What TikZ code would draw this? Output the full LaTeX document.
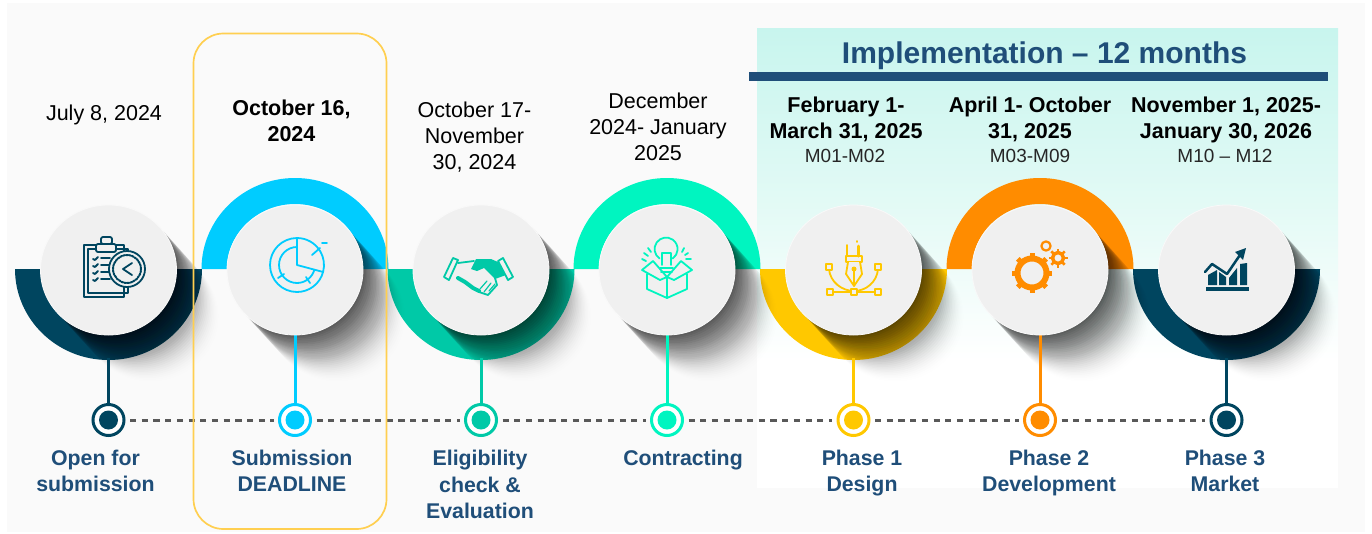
\documentclass[tikz,border=0pt]{standalone}
\usepackage{fontspec}
\setmainfont{Liberation Sans}
\usetikzlibrary{shapes.geometric,calc}
\pgfdeclarelayer{under}
\pgfdeclarelayer{mid}
\pgfsetlayers{under,mid,main}
\definecolor{navy}{HTML}{00455F}
\definecolor{sky}{HTML}{00CCFF}
\definecolor{teal2}{HTML}{00C9A7}
\definecolor{mint}{HTML}{00F5C0}
\definecolor{gold}{HTML}{FFC800}
\definecolor{amber}{HTML}{FF8C00}
\definecolor{ink}{HTML}{1F4E79}
\definecolor{disc}{HTML}{F0F0F0}
\tikzset{
  hub/.style={ellipse,inner sep=0pt,outer sep=0pt,minimum width=136pt,minimum height=130pt,fill=disc,draw=white!60!disc,line width=.8pt},
  ring/.style={circle,inner sep=0pt,outer sep=0pt,minimum size=31pt,fill=white,draw=#1,line width=3pt},
  pip/.style={circle,inner sep=0pt,outer sep=0pt,minimum size=19pt,fill=#1},
  stem/.style={draw=#1,line width=3pt},
  dots/.style={draw=black!65,line width=3pt,dash pattern=on 6.2pt off 5.5pt,shorten >=6pt,shorten <=6pt},
  datetxt/.style={align=center,text=black,inner sep=0pt,font=\fontsize{21.5}{26}\selectfont},
  boldtxt/.style={datetxt,font=\fontsize{21.5}{26}\selectfont\bfseries},
  monthtxt/.style={align=center,text=black!85,inner sep=0pt,font=\fontsize{19}{23}\selectfont},
  caption/.style={align=center,text=ink,inner sep=0pt,font=\fontsize{21.3}{26.3}\selectfont\bfseries},
  icon/.style={draw=#1,line width=1.8pt,line join=round,line cap=round},
}
\begin{document}
\begin{tikzpicture}[x=1pt,y=-1pt]
\useasboundingbox (0,0) rectangle (1372,533);
% hubs, rings, pips
\foreach \i/\x/\col in {1/108.5/navy,2/295/sky,3/481/teal2,4/667/mint,5/853.5/gold,6/1040/amber,7/1226.5/navy}{
  \node[hub] (c\i) at (\x,270) {};
  \node[ring=\col] (d\i) at (\x,420) {};
  \node[pip=\col] (p\i) at (d\i.center) {};
}
\foreach \i in {1,3,5,7}{\coordinate (s\i) at ($(c\i.south)+(0,23)$);}
\foreach \i in {2,4,6}{\coordinate (s\i) at (c\i.south);}
\begin{pgfonlayer}{under}
  \fill[black!2] (7,3) rectangle (1365,532);
  \fill[white] (757,28) rectangle (1338,488);
  \shade[top color={rgb,255:red,200;green,245;blue,238},bottom color={rgb,255:red,226;green,250;blue,245}] (757,28) rectangle (1338,200);
  \shade[top color={rgb,255:red,226;green,250;blue,245},bottom color=white] (757,200) rectangle (1338,360);
  \foreach \x/\col/\e in {108.5/navy/360,295/sky/0,481/teal2/360,667/mint/0,853.5/gold/360,1040/amber/0,1226.5/navy/360}{
    \fill[\col] (\x-93.5,269) arc[start angle=180,end angle=\e,x radius=93.5pt,y radius=91pt]
      -- (\x+68,269) arc[start angle=\e,end angle=180,x radius=68pt,y radius=65pt] -- cycle;
  }
\end{pgfonlayer}
\begin{pgfonlayer}{mid}
  \foreach \x in {108.5,295,481,667,853.5,1040,1226.5}{
    \foreach \k in {1,...,30}{
      \pgfmathsetmacro{\op}{0.058*(1-\k/31)}
      \fill[black,opacity=\op] (\x+\k*1.45,270+\k*1.6) ellipse [x radius=68pt,y radius=65pt];
    }
  }
  \foreach \i/\col in {1/navy,2/sky,3/teal2,4/mint,5/gold,6/amber,7/navy}{
    \draw[stem=\col] (s\i) -- (d\i.north);
  }
  \foreach \a/\b in {1/2,2/3,3/4,4/5,5/6,6/7}{\draw[dots] (d\a.east) -- (d\b.west);}
  \draw[draw={rgb,255:red,255;green,207;blue,80},line width=1.7pt,rounded corners=30pt] (193.5,33.5) rectangle (386.5,529);
\end{pgfonlayer}
% header
\node[inner sep=0pt,text=ink,font=\fontsize{30}{34}\selectfont\bfseries] (title) at (1044.5,55.5) {Implementation – 12 months};
\fill[ink] (749,72) rectangle (1328,81);
% dates
\node[datetxt] (t1) at (104,115) {July 8, 2024};
\node[boldtxt] (t2) at (291.5,121) {October 16,\\2024};
\node[datetxt] (t3) at (474.5,137.5) {October 17-\\November\\30, 2024};
\node[datetxt] (t4) at (658,127) {December\\2024- January\\2025};
\node[boldtxt] (t5) at (846,119) {February 1-\\March 31, 2025};
\node[boldtxt] (t6) at (1030,119) {April 1- October\\31, 2025};
\node[boldtxt] (t7) at (1226,120) {November 1, 2025-\\January 30, 2026};
\node[monthtxt] (m5) at (845,156) {M01-M02};
\node[monthtxt] (m6) at (1030,156) {M03-M09};
\node[monthtxt] (m7) at (1225,156) {M10 – M12};
% captions
\node[caption] (k1) at (95.5,471) {Open for\\submission};
\node[caption] (k2) at (292,471) {Submission\\DEADLINE};
\node[caption] (k3) at (480,484.5) {Eligibility\\check \&\\Evaluation};
\node[caption] (k4) at (683,460) {Contracting};
\node[caption] (k5) at (862,473) {Phase 1\\Design};
\node[caption] (k6) at (1049,473) {Phase 2\\Development};
\node[caption] (k7) at (1225,471) {Phase 3\\Market};
% icon 1: clipboard and clock
\begin{scope}[icon=navy]
  \draw (84,245) rectangle (124,297);
  \draw (88,249) rectangle (128,293);
  \draw[fill=disc,rounded corners=2pt] (96,244) rectangle (116,252);
  \draw[fill=disc,rounded corners=2pt] (101,237) rectangle (112,244);
  \foreach \y in {258,265,272,279}{\draw (93,\y+1) -- (95,\y+2) -- (98,\y-1); \draw (101,\y) -- (110,\y);}
  \draw[fill=disc] (127,269) circle [radius=18pt];
  \draw[densely dotted,line width=2pt] (127,269) circle [radius=14pt];
  \draw (132,263) -- (123,269) -- (132,275);
\end{scope}
% icon 2: chart
\begin{scope}[icon=sky]
  \draw (297,238) arc[start angle=90,end angle=345,radius=27pt];
  \draw (297,247) arc[start angle=90,end angle=345,radius=18pt];
  \draw (297,265) -- (297,238) arc[start angle=90,end angle=-15,radius=27pt] -- cycle;
  \draw (278,278) -- (284,274);
  \draw (310,283) -- (306,277);
  \draw (312,255) -- (320,248);
  \draw (322,243) -- (327,243);
\end{scope}
% icon 3: handshake
\begin{scope}[icon=teal2]
  \draw (444,277) -- (453,258) -- (458,260) -- (449,280) -- cycle;
  \draw (503,258) -- (513,277) -- (508,280) -- (498,261) -- cycle;
  \fill[teal2] (471,269) -- (476,259) -- (491,259) -- (498,262) -- (506,275) -- (495,279) -- (484,268) -- (477,271) -- cycle;
  \draw[line width=4pt] (458,278) -- (465,282) -- (473,288) -- (479,291);
  \draw (458,263) -- (474,261);
  \draw (479,292) -- (488,295) -- (497,285) -- (495,278);
  \draw[line width=1.2pt] (484,292) -- (491,283);
  \draw[line width=1.2pt] (489,291) -- (495,284);
  \draw[line width=1.2pt] (480,289) -- (487,281);
\end{scope}
% icon 4: box and bulb
\begin{scope}[icon=mint]
  \draw (659.5,258.5) arc[start angle=235,end angle=-55,radius=11.5pt];
  \draw (662,253) -- (671,253) -- (671,265);
  \draw (662,253) -- (662,265);
  \draw (660,268) -- (673,268);
  \draw (661,272) -- (672,272);
  \draw (653,261) -- (642,270) -- (660,280) -- (667,277) -- cycle;
  \draw (681,261) -- (692,270) -- (674,280) -- (667,277) -- cycle;
  \draw (647,274) -- (647,289) -- (667,298) -- (687,289) -- (687,274);
  \draw (667,277) -- (667,298);
  \draw (642,259) -- (646,261);
  \draw (644,253) -- (648,256);
  \draw (648,248) -- (651,252);
  \draw (682,252) -- (684,248);
  \draw (685,255) -- (688,253);
  \draw (686,259) -- (691,259);
\end{scope}
% icon 5: pen tool
\begin{scope}[icon=gold]
  \draw (829,269) .. controls (830,282) and (842,291) .. (854,291);
  \draw (878,269) .. controls (877,282) and (866,291) .. (854,291);
  \draw (830,292) -- (878,292);
  \foreach \x/\y in {829/267,878/267,830/292,854/292,878/292}{\draw[fill=disc] (\x-2.8,\y-2.8) rectangle (\x+2.8,\y+2.8);}
  \draw[fill=disc] (846,256) rectangle (862,262);
  \draw[fill=disc] (848,262) -- (846,274) -- (854,286) -- (862,274) -- (860,262);
  \fill[gold] (854,269) circle [radius=2.5pt];
  \draw (854,269) -- (854,284);
  \draw (847,245) -- (847,256);
  \draw[line width=3pt] (858,246) -- (858,256);
  \draw (857,241) -- (857,242);
\end{scope}
% icon 6: gears
\begin{scope}[icon=amber]
  \draw[line width=6pt] (1032,273) circle [radius=14.5pt];
  \foreach \a in {0,45,...,315}{\draw[shift={(1032,273)},line width=5pt,line cap=butt] (\a:15pt) -- (\a:20pt);}
  \draw[line width=3.5pt] (1058,258) circle [radius=5.5pt];
  \foreach \a in {0,45,...,315}{\draw[shift={(1058,258)},line width=2.5pt,line cap=butt] (\a:6pt) -- (\a:9.5pt);}
  \draw[line width=2.2pt] (1046,246) circle [radius=4.6pt];
\end{scope}
% icon 7: chart
\begin{scope}[icon=navy]
  \fill[navy] (1206,287) rectangle (1249,291);
  \fill[navy] (1208,275) -- (1217,270) -- (1217,285) -- (1208,285) -- cycle;
  \fill[navy] (1219,272) -- (1226,277) -- (1226,285) -- (1219,285) -- cycle;
  \fill[navy] (1229,278) -- (1237,268) -- (1237,285) -- (1229,285) -- cycle;
  \fill[navy] (1240,264) -- (1247,263) -- (1247,285) -- (1240,285) -- cycle;
  \draw[line width=2.5pt] (1205,272) -- (1212,264) -- (1227,274) -- (1242,252);
  \fill[navy] (1235,252) -- (1246,248) -- (1243,260) -- cycle;
\end{scope}
\end{tikzpicture}
\end{document}
